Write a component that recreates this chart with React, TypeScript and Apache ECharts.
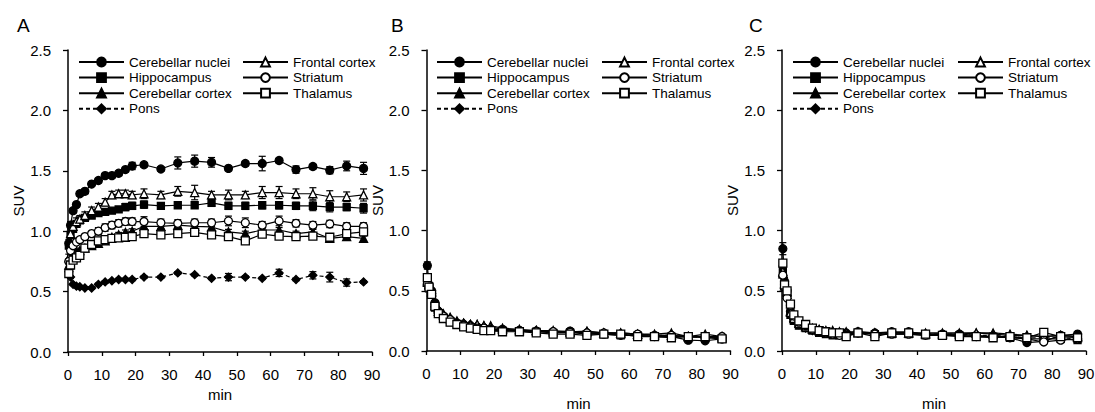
import React, { useEffect, useRef } from 'react';
import * as echarts from 'echarts';

// Frame mid-times (min)
const TIMES = [0.25, 0.75, 1.5, 2.5, 3.5, 5, 7, 9, 11, 13, 15, 17, 19, 22.5, 27.5, 32.5, 37.5, 42.5, 47.5, 52.5, 57.5, 62.5, 67.5, 72.5, 77.5, 82.5, 87.5];

const X_TICKS = [0, 10, 20, 30, 40, 50, 60, 70, 80, 90];
const Y_TICKS = [0, 0.5, 1.0, 1.5, 2.0, 2.5];
const PANEL_LABELS = ['A', 'B', 'C'];
const REGIONS = ['Cerebellar nuclei', 'Hippocampus', 'Cerebellar cortex', 'Pons', 'Frontal cortex', 'Striatum', 'Thalamus'];

// Panel A
const cnA = [0.90, 1.05, 1.17, 1.22, 1.31, 1.33, 1.39, 1.42, 1.46, 1.46, 1.48, 1.51, 1.54, 1.55, 1.515, 1.565, 1.58, 1.57, 1.52, 1.56, 1.56, 1.585, 1.51, 1.535, 1.505, 1.54, 1.52];
const hipA = [0.88, 0.97, 1.02, 1.06, 1.09, 1.11, 1.13, 1.15, 1.16, 1.17, 1.18, 1.20, 1.21, 1.22, 1.21, 1.215, 1.215, 1.235, 1.21, 1.21, 1.215, 1.215, 1.21, 1.21, 1.20, 1.20, 1.19];
const ccA = [0.72, 0.78, 0.80, 0.83, 0.84, 0.86, 0.88, 0.90, 0.92, 0.95, 0.97, 0.99, 1.00, 1.04, 1.04, 1.05, 1.04, 1.035, 0.995, 0.98, 1.01, 1.01, 0.98, 0.995, 0.94, 0.955, 0.94];
const ponsA = [0.665, 0.62, 0.56, 0.545, 0.54, 0.53, 0.53, 0.56, 0.58, 0.59, 0.60, 0.60, 0.60, 0.62, 0.62, 0.655, 0.64, 0.61, 0.62, 0.62, 0.61, 0.655, 0.60, 0.635, 0.62, 0.575, 0.58];
const fcA = [0.78, 0.98, 1.04, 1.08, 1.10, 1.13, 1.17, 1.20, 1.24, 1.30, 1.31, 1.31, 1.30, 1.31, 1.30, 1.33, 1.32, 1.30, 1.30, 1.30, 1.32, 1.32, 1.31, 1.31, 1.285, 1.285, 1.30];
const stA = [0.75, 0.84, 0.88, 0.91, 0.93, 0.955, 0.98, 1.00, 1.03, 1.05, 1.065, 1.08, 1.08, 1.08, 1.07, 1.065, 1.07, 1.07, 1.085, 1.07, 1.05, 1.085, 1.065, 1.05, 1.06, 1.04, 1.04];
const thA = [0.65, 0.72, 0.76, 0.78, 0.80, 0.86, 0.89, 0.92, 0.93, 0.94, 0.945, 0.95, 0.955, 0.98, 0.97, 0.98, 0.99, 0.97, 0.955, 0.92, 0.975, 0.96, 0.955, 0.96, 0.95, 0.98, 0.995];

const cnAerr = [0.03, 0.03, 0.02, 0.02, 0.02, 0.02, 0.02, 0.02, 0.02, 0.02, 0.02, 0.02, 0.03, 0.02, 0.02, 0.05, 0.05, 0.04, 0.02, 0.02, 0.06, 0.02, 0.03, 0.02, 0.03, 0.04, 0.05];
const hipAerr = [0.02, 0.02, 0.02, 0.02, 0.02, 0.02, 0.02, 0.02, 0.02, 0.02, 0.02, 0.03, 0.03, 0.03, 0.02, 0.02, 0.02, 0.03, 0.03, 0.03, 0.03, 0.03, 0.03, 0.04, 0.04, 0.03, 0.04];
const ccAerr = [0.02, 0.02, 0.02, 0.02, 0.02, 0.02, 0.02, 0.02, 0.02, 0.02, 0.02, 0.02, 0.02, 0.02, 0.02, 0.02, 0.02, 0.02, 0.02, 0.02, 0.02, 0.02, 0.02, 0.02, 0.02, 0.02, 0.02];
const ponsAerr = [0.02, 0.01, 0.01, 0.01, 0.01, 0.01, 0.01, 0.01, 0.01, 0.01, 0.01, 0.01, 0.01, 0.01, 0.01, 0.01, 0.01, 0.01, 0.03, 0.01, 0.01, 0.03, 0.01, 0.03, 0.04, 0.03, 0.01];
const fcAerr = [0.03, 0.03, 0.03, 0.03, 0.03, 0.03, 0.03, 0.03, 0.03, 0.03, 0.03, 0.03, 0.03, 0.04, 0.03, 0.04, 0.06, 0.03, 0.04, 0.03, 0.05, 0.05, 0.04, 0.05, 0.05, 0.04, 0.05];
const stAerr = [0.02, 0.02, 0.02, 0.02, 0.02, 0.02, 0.02, 0.03, 0.03, 0.03, 0.03, 0.03, 0.03, 0.04, 0.03, 0.03, 0.03, 0.03, 0.04, 0.04, 0.03, 0.04, 0.03, 0.03, 0.03, 0.03, 0.03];
const thAerr = [0.02, 0.02, 0.02, 0.02, 0.02, 0.02, 0.02, 0.02, 0.02, 0.02, 0.02, 0.02, 0.02, 0.02, 0.02, 0.02, 0.02, 0.02, 0.02, 0.02, 0.02, 0.02, 0.02, 0.02, 0.02, 0.03, 0.03];

// Panel B
const cnB = [0.71, 0.55, 0.50, 0.40, 0.33, 0.29, 0.26, 0.23, 0.22, 0.21, 0.20, 0.19, 0.18, 0.18, 0.17, 0.165, 0.16, 0.165, 0.15, 0.14, 0.13, 0.13, 0.12, 0.12, 0.09, 0.085, 0.10];
const hipB = [0.60, 0.52, 0.47, 0.36, 0.31, 0.27, 0.24, 0.22, 0.20, 0.19, 0.18, 0.18, 0.17, 0.17, 0.165, 0.16, 0.15, 0.155, 0.14, 0.14, 0.13, 0.13, 0.12, 0.12, 0.12, 0.11, 0.10];
const ccB = [0.57, 0.55, 0.50, 0.40, 0.35, 0.31, 0.28, 0.25, 0.23, 0.22, 0.22, 0.21, 0.21, 0.19, 0.18, 0.17, 0.17, 0.16, 0.165, 0.15, 0.15, 0.14, 0.14, 0.15, 0.12, 0.12, 0.11];
const ponsB = [0.55, 0.52, 0.48, 0.39, 0.34, 0.30, 0.27, 0.24, 0.23, 0.22, 0.21, 0.20, 0.19, 0.18, 0.17, 0.17, 0.16, 0.16, 0.15, 0.15, 0.14, 0.14, 0.13, 0.13, 0.12, 0.11, 0.11];
const fcB = [0.58, 0.55, 0.49, 0.38, 0.33, 0.30, 0.27, 0.24, 0.23, 0.22, 0.22, 0.21, 0.20, 0.18, 0.17, 0.17, 0.16, 0.16, 0.16, 0.15, 0.15, 0.14, 0.13, 0.13, 0.12, 0.14, 0.12];
const stB = [0.56, 0.53, 0.48, 0.37, 0.32, 0.29, 0.26, 0.23, 0.21, 0.20, 0.19, 0.19, 0.18, 0.17, 0.17, 0.16, 0.16, 0.155, 0.15, 0.15, 0.14, 0.14, 0.13, 0.13, 0.12, 0.12, 0.12];
const thB = [0.61, 0.53, 0.47, 0.37, 0.31, 0.27, 0.24, 0.22, 0.20, 0.19, 0.18, 0.17, 0.17, 0.16, 0.16, 0.15, 0.14, 0.14, 0.13, 0.14, 0.14, 0.12, 0.12, 0.11, 0.12, 0.12, 0.10];
const cnBerr = [0.03, 0.02, 0.02, 0.02, 0.01, 0.01, 0.01, 0.01, 0.01, 0.01, 0.01, 0.01, 0.01, 0.01, 0.01, 0.01, 0.01, 0.01, 0.01, 0.01, 0.01, 0.01, 0.01, 0.01, 0.01, 0.01, 0.01];

// Panel C
const cnC = [0.85, 0.58, 0.50, 0.33, 0.27, 0.23, 0.20, 0.18, 0.17, 0.16, 0.15, 0.15, 0.15, 0.16, 0.15, 0.16, 0.16, 0.14, 0.14, 0.14, 0.13, 0.12, 0.11, 0.07, 0.08, 0.13, 0.14];
const hipC = [0.68, 0.55, 0.48, 0.30, 0.25, 0.21, 0.19, 0.17, 0.15, 0.14, 0.13, 0.13, 0.13, 0.15, 0.14, 0.14, 0.14, 0.13, 0.13, 0.13, 0.12, 0.12, 0.11, 0.10, 0.10, 0.10, 0.09];
const ccC = [0.64, 0.56, 0.49, 0.33, 0.28, 0.24, 0.21, 0.19, 0.18, 0.17, 0.17, 0.16, 0.16, 0.16, 0.15, 0.15, 0.15, 0.15, 0.15, 0.15, 0.15, 0.15, 0.14, 0.13, 0.12, 0.13, 0.12];
const ponsC = [0.62, 0.52, 0.46, 0.30, 0.26, 0.22, 0.19, 0.17, 0.16, 0.15, 0.14, 0.14, 0.14, 0.15, 0.14, 0.15, 0.15, 0.14, 0.14, 0.14, 0.13, 0.13, 0.12, 0.11, 0.11, 0.11, 0.10];
const fcC = [0.66, 0.54, 0.47, 0.32, 0.27, 0.23, 0.20, 0.18, 0.17, 0.16, 0.16, 0.15, 0.15, 0.15, 0.15, 0.15, 0.15, 0.14, 0.14, 0.14, 0.15, 0.14, 0.13, 0.13, 0.12, 0.13, 0.12];
const stC = [0.63, 0.55, 0.44, 0.38, 0.29, 0.24, 0.21, 0.18, 0.16, 0.15, 0.14, 0.13, 0.13, 0.15, 0.14, 0.14, 0.14, 0.13, 0.13, 0.13, 0.12, 0.12, 0.12, 0.10, 0.075, 0.09, 0.10];
const thC = [0.73, 0.55, 0.50, 0.39, 0.30, 0.25, 0.22, 0.19, 0.17, 0.16, 0.15, 0.15, 0.12, 0.15, 0.12, 0.15, 0.15, 0.14, 0.13, 0.12, 0.12, 0.11, 0.12, 0.11, 0.155, 0.12, 0.11];
const cnCerr = [0.05, 0.03, 0.02, 0.02, 0.01, 0.01, 0.01, 0.01, 0.01, 0.01, 0.01, 0.01, 0.01, 0.01, 0.01, 0.01, 0.01, 0.01, 0.01, 0.01, 0.01, 0.01, 0.01, 0.01, 0.01, 0.01, 0.01];

const PANEL_VALUES = [
  [cnA, hipA, ccA, ponsA, fcA, stA, thA],
  [cnB, hipB, ccB, ponsB, fcB, stB, thB],
  [cnC, hipC, ccC, ponsC, fcC, stC, thC],
];
const PANEL_ERRORS: (number[] | null)[][] = [
  [cnAerr, hipAerr, ccAerr, ponsAerr, fcAerr, stAerr, thAerr],
  [cnBerr, null, null, null, null, null, null],
  [cnCerr, null, null, null, null, null, null],
];

// Styling per region (symbol, filled, dashed, size)
const REGION_STYLE = [
  { symbol: 'circle', filled: true, dashed: false, size: 8 },
  { symbol: 'rect', filled: true, dashed: false, size: 7 },
  { symbol: 'triangle', filled: true, dashed: false, size: 8 },
  { symbol: 'diamond', filled: true, dashed: true, size: 8 },
  { symbol: 'triangle', filled: false, dashed: false, size: 8 },
  { symbol: 'circle', filled: false, dashed: false, size: 8 },
  { symbol: 'rect', filled: false, dashed: false, size: 8 },
];

const FONT = '"Liberation Sans", Arial, sans-serif';
const GRIDS = [
  { left: 68, top: 50, width: 304, height: 302 },
  { left: 426.5, top: 50, width: 304, height: 301 },
  { left: 782, top: 50, width: 304, height: 301 },
];
const Y_NAME_GAP = [41, 31, 32];
const X_NAME_GAP = [33, 45, 45];
const LEGEND_COL1 = [78, 436, 792];
const LEGEND_COL2 = [242, 601, 957];
const TITLE_LEFT = [17, 391, 749];

export default function App() {
  const ref = useRef<HTMLDivElement>(null);
  useEffect(() => {
    document.body.style.margin = '0';
    if (!ref.current) return;
    const chart = echarts.init(ref.current, undefined, { renderer: 'svg' });

    const series: any[] = [];
    PANEL_VALUES.forEach((vals, p) => {
      vals.forEach((arr, r) => {
        const st = REGION_STYLE[r];
        const err = PANEL_ERRORS[p][r];
        if (err) {
          series.push({
            type: 'custom',
            xAxisIndex: p,
            yAxisIndex: p,
            z: 1,
            silent: true,
            data: arr.map((v, i) => [TIMES[i], v, err[i]]),
            renderItem: (params: any, api: any) => {
              const x = api.value(0);
              const y = api.value(1);
              const e = api.value(2);
              const hi = api.coord([x, y + e]);
              const lo = api.coord([x, y - e]);
              const w = 3.5;
              const style = { stroke: '#000', lineWidth: 1.2 };
              return {
                type: 'group',
                children: [
                  { type: 'line', shape: { x1: hi[0], y1: hi[1], x2: lo[0], y2: lo[1] }, style },
                  { type: 'line', shape: { x1: hi[0] - w, y1: hi[1], x2: hi[0] + w, y2: hi[1] }, style },
                  { type: 'line', shape: { x1: lo[0] - w, y1: lo[1], x2: lo[0] + w, y2: lo[1] }, style },
                ],
              };
            },
          });
        }
        series.push({
          type: 'line',
          name: REGIONS[r],
          xAxisIndex: p,
          yAxisIndex: p,
          z: 2,
          data: arr.map((v, i) => [TIMES[i], v]),
          symbol: st.symbol,
          symbolSize: st.size,
          showAllSymbol: true,
          lineStyle: { color: '#000', width: 1.2, type: st.dashed ? [4, 3] : 'solid' },
          itemStyle: { color: st.filled ? '#000' : '#fff', borderColor: '#000', borderWidth: 1.3 },
          emphasis: { disabled: true },
        });
      });
    });

    const legends: any[] = [];
    for (let p = 0; p < 3; p++) {
      const common = {
        orient: 'vertical',
        top: 55,
        itemWidth: 45,
        itemHeight: 11,
        itemGap: 1.6,
        selectedMode: false,
        textStyle: { fontFamily: FONT, fontSize: 13.5, color: '#000' },
        padding: 0,
      };
      legends.push({ ...common, left: LEGEND_COL1[p], data: REGIONS.slice(0, 4) });
      legends.push({ ...common, left: LEGEND_COL2[p], data: REGIONS.slice(4) });
    }

    const option: any = {
      animation: false,
      backgroundColor: '#fff',
      title: PANEL_LABELS.map((t, p) => ({
        text: t,
        left: TITLE_LEFT[p],
        top: 16,
        padding: 0,
        textStyle: { fontFamily: FONT, fontSize: 19, fontWeight: 'normal', color: '#000' },
      })),
      legend: legends,
      grid: GRIDS.map((g) => ({ ...g, outerBoundsMode: 'none', containLabel: false })),
      xAxis: GRIDS.map((_, p) => ({
        type: 'value',
        gridIndex: p,
        min: X_TICKS[0],
        max: X_TICKS[X_TICKS.length - 1],
        interval: X_TICKS[1] - X_TICKS[0],
        name: 'min',
        nameLocation: 'middle',
        nameGap: X_NAME_GAP[p],
        nameTextStyle: { fontFamily: FONT, fontSize: 15, color: '#000' },
        axisLine: { show: true, lineStyle: { color: '#000', width: 1.5 } },
        axisTick: { show: true, length: 4, lineStyle: { color: '#000', width: 1.3 } },
        axisLabel: { fontFamily: FONT, fontSize: 15, color: '#000', margin: 15, showMinLabel: true, showMaxLabel: true },
        splitLine: { show: false },
      })),
      yAxis: GRIDS.map((_, p) => ({
        type: 'value',
        gridIndex: p,
        min: Y_TICKS[0],
        max: Y_TICKS[Y_TICKS.length - 1],
        interval: Y_TICKS[1] - Y_TICKS[0],
        name: 'SUV',
        nameLocation: 'middle',
        nameGap: Y_NAME_GAP[p],
        nameTextStyle: { fontFamily: FONT, fontSize: 15, color: '#000' },
        axisLine: { show: true, lineStyle: { color: '#000', width: 1.5 } },
        axisTick: { show: true, length: 5, lineStyle: { color: '#000', width: 1.3 } },
        axisLabel: { fontFamily: FONT, fontSize: 15, color: '#000', margin: 17, formatter: (v: number) => v.toFixed(1) },
        splitLine: { show: false },
      })),
      series,
    };
    chart.setOption(option);
    return () => chart.dispose();
  }, []);
  return <div ref={ref} style={{ width: 1095, height: 412 }} />;
}
